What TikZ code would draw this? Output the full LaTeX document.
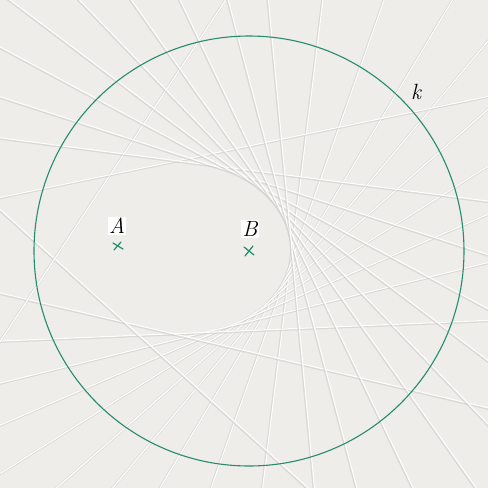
\documentclass[tikz,border=0pt]{standalone}
\usetikzlibrary{calc}
\definecolor{paper}{RGB}{238,237,233}
\definecolor{ink}{RGB}{38,140,112}
\definecolor{shade}{RGB}{204,202,197}
\tikzset{
  creaseshadow/.style={draw=shade, line width=2.4pt, opacity=0.55},
  creaselight/.style={draw=white, line width=1.2pt, opacity=0.95},
  crossmark/.style={draw=ink, line width=1.2pt, line cap=round},
  ptlabel/.style={fill=white, inner sep=1pt, font=\fontsize{22}{22}\selectfont\itshape}
}
\begin{document}
\begin{tikzpicture}[x=1pt,y=-1pt]
\useasboundingbox (0,0) rectangle (488,488);
\fill[paper] (0,0) rectangle (488,488);
\coordinate (A) at (118,246);
\coordinate (B) at (249,251);
\begin{scope}
\clip (0,0) rectangle (488,488);
\foreach \t in {10,30,48,62,75,88,100,112,125,140,160,195,222,240,252,265,277,290,303,318,335,350} {
  \pgfmathsetmacro\px{249+215*cos(\t)}
  \pgfmathsetmacro\py{251+215*sin(\t)}
  \pgfmathsetmacro\mx{(118+\px)/2}
  \pgfmathsetmacro\my{(246+\py)/2}
  \pgfmathsetmacro\dx{\px-118}
  \pgfmathsetmacro\dy{\py-246}
  \pgfmathsetmacro\nn{veclen(\dx,\dy)}
  \pgfmathsetmacro\ux{-\dy/\nn*700}
  \pgfmathsetmacro\uy{\dx/\nn*700}
  \draw[creaseshadow] (\mx-\ux,\my-\uy) -- (\mx+\ux,\my+\uy);
  \draw[creaselight] (\mx-\ux+0.7,\my-\uy-0.7) -- (\mx+\ux+0.7,\my+\uy-0.7);
}
\end{scope}
\draw[ink, line width=1.1pt] (B) circle (215);
\draw[crossmark] ($(A)+(-5,-3)$) -- ($(A)+(5,3)$) ($(A)+(-4,4)$) -- ($(A)+(3,-4)$);
\draw[crossmark] ($(B)+(-5,-4)$) -- ($(B)+(5,4)$) ($(B)+(-4,5)$) -- ($(B)+(4,-5)$);
\node[ptlabel] (la) at (117,226) {A};
\node[ptlabel] (lb) at (250,229) {B};
\node[font=\fontsize{22}{22}\selectfont\itshape] (lk) at (416,92) {k};
\end{tikzpicture}
\end{document}
